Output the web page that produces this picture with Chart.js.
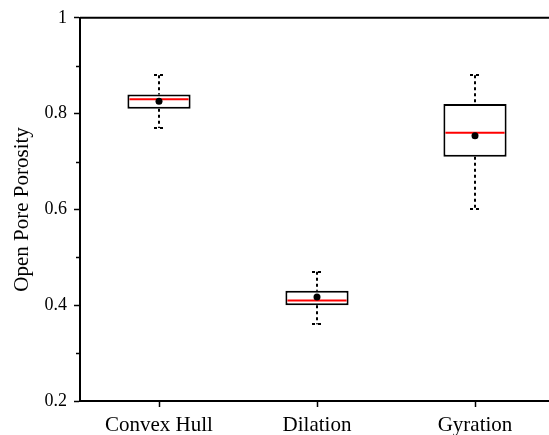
<!DOCTYPE html>
<html>
<head>
<meta charset="utf-8">
<script src="https://cdn.jsdelivr.net/npm/chart.js@4.4.1/dist/chart.umd.min.js"></script>
<style>
  html, body { margin: 0; padding: 0; overflow: hidden; background: #fff; }
  canvas { display: block; }
</style>
</head>
<body>
<canvas id="porosity" width="558" height="435"></canvas>
<script>
// box plot summary per method
var methods = ['Convex Hull', 'Dilation', 'Gyration'];
var whiskerLow = [0.77, 0.36, 0.60];
var boxLow = [0.81, 0.40, 0.71];
var medians = [0.83, 0.41, 0.76];
var boxHigh = [0.84, 0.43, 0.82];
var whiskerHigh = [0.88, 0.47, 0.88];
var means = [0.826, 0.417, 0.754];

var yTicks = [0.2, 0.4, 0.6, 0.8, 1];
var yMinorTicks = [0.3, 0.5, 0.7, 0.9];

var serif = 'Liberation Serif';

// whiskers (dashed), caps, median lines, minor ticks and top frame
var boxExtras = {
    id: 'boxExtras',
    beforeDatasetsDraw: function (chart) {
        var ctx = chart.ctx, x = chart.scales.x, y = chart.scales.y;
        ctx.save();
        ctx.strokeStyle = '#000';
        ctx.lineWidth = 2;
        ctx.setLineDash([3, 3]);
        for (var i = 0; i < methods.length; i++) {
            var cx = Math.round(x.getPixelForValue(i));
            ctx.beginPath();
            ctx.moveTo(cx, y.getPixelForValue(whiskerHigh[i]));
            ctx.lineTo(cx, y.getPixelForValue(boxHigh[i]));
            ctx.moveTo(cx, y.getPixelForValue(boxLow[i]));
            ctx.lineTo(cx, y.getPixelForValue(whiskerLow[i]));
            ctx.stroke();

            ctx.beginPath();
            [whiskerHigh[i], whiskerLow[i]].forEach(function (v) {
                var py = Math.round(y.getPixelForValue(v));
                ctx.moveTo(cx - 5, py);
                ctx.lineTo(cx + 5, py);
            });
            ctx.stroke();
        }
        ctx.restore();
    },
    afterDatasetDraw: function (chart, args) {
        if (args.index !== 0) return;
        var ctx = chart.ctx, y = chart.scales.y;
        var bars = chart.getDatasetMeta(0).data;
        ctx.save();
        ctx.strokeStyle = '#ff0000';
        ctx.lineWidth = 2;
        for (var i = 0; i < bars.length; i++) {
            var half = bars[i].width / 2;
            var py = y.getPixelForValue(medians[i]);
            ctx.beginPath();
            ctx.moveTo(bars[i].x - half + 2, py);
            ctx.lineTo(bars[i].x + half - 2, py);
            ctx.stroke();
        }
        ctx.restore();
    },
    afterDraw: function (chart) {
        var ctx = chart.ctx, y = chart.scales.y, area = chart.chartArea;
        ctx.save();
        ctx.strokeStyle = '#000';
        ctx.lineWidth = 1.5;
        ctx.beginPath();
        yMinorTicks.forEach(function (v) {
            var py = Math.round(y.getPixelForValue(v)) + 0.5;
            ctx.moveTo(area.left - 4, py);
            ctx.lineTo(area.left, py);
        });
        ctx.stroke();
        ctx.lineWidth = 2;
        ctx.beginPath();
        ctx.moveTo(area.left, area.top);
        ctx.lineTo(chart.width, area.top);
        ctx.stroke();
        ctx.restore();
    }
};

var ctx = document.getElementById('porosity').getContext('2d');
new Chart(ctx, {
    type: 'bar',
    data: {
        labels: methods,
        datasets: [
            {
                data: boxLow.map(function (lo, i) { return [lo, boxHigh[i]]; }),
                backgroundColor: '#fff',
                borderColor: '#000',
                borderWidth: 2,
                borderSkipped: false,
                categoryPercentage: 1,
                barPercentage: 0.4,
                order: 2
            },
            {
                type: 'line',
                data: means,
                showLine: false,
                pointRadius: 3.5,
                pointBackgroundColor: '#000',
                pointBorderColor: '#000',
                pointBorderWidth: 0,
                order: 1
            }
        ]
    },
    plugins: [boxExtras],
    options: {
        responsive: false,
        animation: false,
        layout: { padding: { top: 17, left: 0, right: 0, bottom: 0 } },
        plugins: {
            legend: { display: false },
            tooltip: { enabled: false }
        },
        scales: {
            x: {
                grid: { display: true, drawOnChartArea: false, offset: false, tickLength: 6, tickColor: '#000', tickWidth: 1.5 },
                border: { color: '#000', width: 2 },
                ticks: { color: '#000', padding: 6, font: { family: serif, size: 21 } },
                afterFit: function (scale) { scale.height = 34; }
            },
            y: {
                min: 0.2,
                max: 1,
                afterBuildTicks: function (scale) {
                    scale.ticks = yTicks.map(function (v) { return { value: v }; });
                },
                grid: { drawOnChartArea: false, tickLength: 6, tickColor: '#000', tickWidth: 1.5 },
                border: { color: '#000', width: 2 },
                ticks: {
                    color: '#000',
                    padding: 7,
                    font: { family: serif, size: 18 },
                    callback: function (v) { return String(v); }
                },
                title: {
                    display: true,
                    text: 'Open Pore Porosity',
                    color: '#000',
                    font: { family: serif, size: 21 },
                    padding: { top: 10, bottom: 0 }
                },
                afterFit: function (scale) { scale.width = 80; }
            }
        }
    }
});
</script>
</body>
</html>
